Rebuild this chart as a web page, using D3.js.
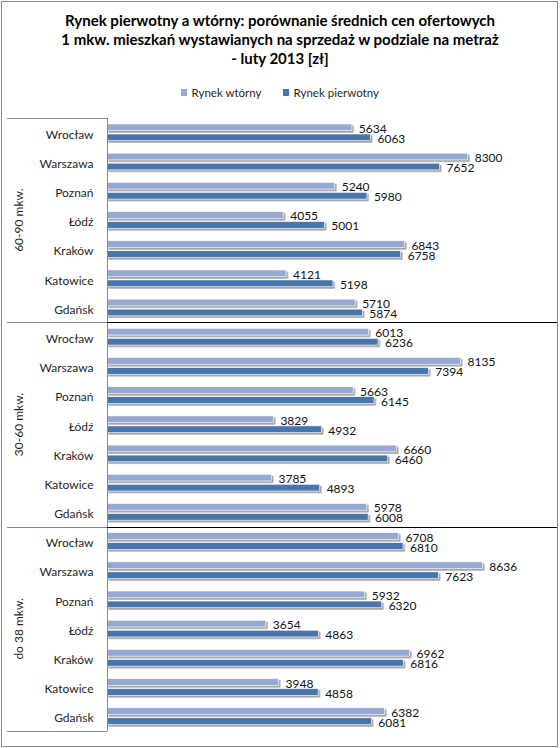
<!DOCTYPE html>
<html>
<head>
<meta charset="utf-8">
<script src="https://cdn.jsdelivr.net/npm/d3@7/dist/d3.min.js"></script>
<style>
  html, body { margin: 0; padding: 0; background: #fff; }
  svg { display: block; }
  text { font-family: Lato, "Open Sans", sans-serif; }
</style>
</head>
<body>
<svg id="chart" width="560" height="748"></svg>
<script>
// ---- data ----
const titleLines = [
  "Rynek pierwotny a wtórny: porównanie średnich cen ofertowych",
  "1 mkw. mieszkań wystawianych na sprzedaż w podziale na metraż",
  "- luty 2013 [zł]"
];
const seriesNames = ["Rynek wtórny", "Rynek pierwotny"];
const groups = ["60-90 mkw.", "30-60 mkw.", "do 38 mkw."];
const cities = ["Wrocław", "Warszawa", "Poznań", "Łódź", "Kraków", "Katowice", "Gdańsk"];
const wtorny6090 = [5634, 8300, 5240, 4055, 6843, 4121, 5710];
const pierwotny6090 = [6063, 7652, 5980, 5001, 6758, 5198, 5874];
const wtorny3060 = [6013, 8135, 5663, 3829, 6660, 3785, 5978];
const pierwotny3060 = [6236, 7394, 6145, 4932, 6460, 4893, 6008];
const wtorny38 = [6708, 8636, 5932, 3654, 6962, 3948, 6382];
const pierwotny38 = [6810, 7623, 6320, 4863, 6816, 4858, 6081];
const xMax = 10000;

const colors = ["#95a9d3", "#4674ac"];

// build rows
const wt = [wtorny6090, wtorny3060, wtorny38];
const pi = [pierwotny6090, pierwotny3060, pierwotny38];
const rows = [];
groups.forEach((g, gi) => {
  cities.forEach((c, ci) => {
    rows.push({ key: gi + "|" + c, group: g, city: c, values: [wt[gi][ci], pi[gi][ci]] });
  });
});

const svg = d3.select("#chart");
const W = 560, H = 748;

// filter for shadow
const defs = svg.append("defs");
const f = defs.append("filter").attr("id", "sh").attr("x", "-5%").attr("y", "-50%").attr("width", "110%").attr("height", "250%");
f.append("feDropShadow").attr("dx", 1.6).attr("dy", 1.8).attr("stdDeviation", 0.7)
  .attr("flood-color", "#808080").attr("flood-opacity", 0.75);

// outer border
svg.append("rect").attr("x", 1.5).attr("y", 1.5).attr("width", W - 4).attr("height", H - 3)
  .attr("fill", "#fff").attr("stroke", "#868686").attr("stroke-width", 1);

// title
const title = svg.append("text").attr("text-anchor", "middle")
  .attr("font-weight", "bold").attr("font-size", 15).attr("fill", "#000");
titleLines.forEach((t, i) => {
  title.append("tspan").attr("x", 280).attr("y", 26.3 + i * 18.7).text(t);
});

// legend
const legend = svg.append("g");
const legX = [181, 283];
seriesNames.forEach((s, i) => {
  legend.append("rect").attr("x", legX[i]).attr("y", 89).attr("width", 6).attr("height", 7)
    .attr("fill", colors[i]);
  legend.append("text").attr("x", legX[i] + 10.5).attr("y", 92.5).attr("dominant-baseline", "central")
    .attr("font-size", 11.5).attr("fill", "#1f1f1f").text(s);
});

// scales
const x0 = 107, plotTop = 118, plotBottom = 731;
const x = d3.scaleLinear().domain([0, xMax]).range([x0, x0 + 434.6]);
const y = d3.scaleBand().domain(rows.map(r => r.key)).range([plotTop, plotBottom]).paddingInner(0).paddingOuter(0);
const ySub = d3.scaleBand().domain([0, 1]).range([-8.6, 8.1]).paddingInner(0.33).paddingOuter(0);

// bars
const rowG = svg.append("g").selectAll("g").data(rows).join("g")
  .attr("transform", d => `translate(0,${y(d.key) + y.bandwidth() / 2})`);

rowG.selectAll("rect").data(d => d.values.map((v, i) => ({ v, i }))).join("rect")
  .attr("x", x(0))
  .attr("y", d => ySub(d.i))
  .attr("width", d => x(d.v) - x(0))
  .attr("height", ySub.bandwidth())
  .attr("fill", d => colors[d.i])
  .attr("stroke", "#fff").attr("stroke-width", 0.6)
  .attr("filter", "url(#sh)");

rowG.selectAll("text.val").data(d => d.values.map((v, i) => ({ v, i }))).join("text")
  .attr("class", "val")
  .attr("x", d => x(d.v) + 7)
  .attr("y", d => ySub(d.i) + ySub.bandwidth() + 2.2)
  .attr("font-size", 12).attr("fill", "#111")
  .text(d => d.v);

// category labels
rowG.append("text")
  .attr("x", 93.5).attr("y", 1.5)
  .attr("text-anchor", "end").attr("dominant-baseline", "central")
  .attr("font-size", 12).attr("fill", "#1f1f1f")
  .text(d => d.city);

// axis + frame lines
const step = y.step();
svg.append("line").attr("x1", x0 + 0.5).attr("x2", x0 + 0.5).attr("y1", plotTop).attr("y2", plotBottom)
  .attr("stroke", "#868686");
svg.append("line").attr("x1", 7).attr("x2", x0).attr("y1", plotTop + 0.5).attr("y2", plotTop + 0.5).attr("stroke", "#868686");
svg.append("line").attr("x1", 7).attr("x2", x0).attr("y1", plotBottom + 0.5).attr("y2", plotBottom + 0.5).attr("stroke", "#868686");
[1, 2].forEach(k => {
  const yy = Math.round(plotTop + k * cities.length * step) + 0.5;
  svg.append("line").attr("x1", 7).attr("x2", x0).attr("y1", yy).attr("y2", yy).attr("stroke", "#868686");
  svg.append("line").attr("x1", x0).attr("x2", W - 3).attr("y1", yy).attr("y2", yy).attr("stroke", "#000");
});

// group labels
groups.forEach((g, gi) => {
  const cy = plotTop + (gi * cities.length + cities.length / 2) * step;
  svg.append("text")
    .attr("transform", `translate(18,${cy}) rotate(-90)`)
    .attr("text-anchor", "middle").attr("dominant-baseline", "central")
    .attr("font-size", 12).attr("fill", "#1f1f1f")
    .text(g);
});
</script>
</body>
</html>
